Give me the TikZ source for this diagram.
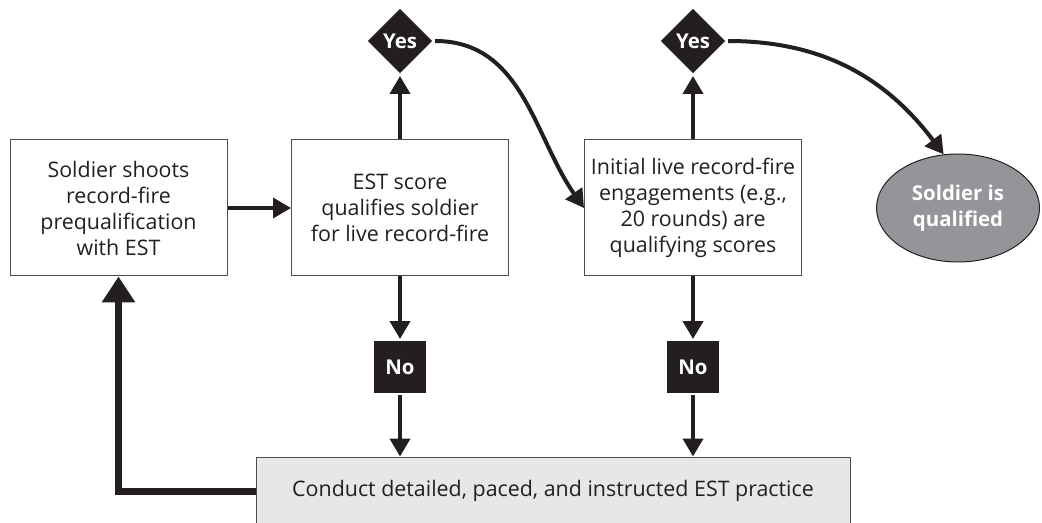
\documentclass[tikz,border=0pt]{standalone}
\usepackage{fontspec}
\setmainfont{Open Sans}
\usetikzlibrary{arrows.meta,shapes.geometric}
\definecolor{inkdark}{HTML}{231F20}
\definecolor{rimgray}{HTML}{4D4D4F}
\definecolor{panelgray}{HTML}{E6E7E8}
\definecolor{ovalgray}{HTML}{939598}

\begin{document}
\begin{tikzpicture}[x=0.5pt, y=-0.5pt, line width=2pt, draw=inkdark, text=inkdark,
    font=\fontsize{10.7}{13}\selectfont,
    -{Triangle[width=10pt, length=9pt]}]
    \tikzstyle{stepbox}=[draw=rimgray, line width=0.5pt, -, align=center, minimum width=108.5pt, minimum height=68pt, inner sep=0pt]
    \tikzstyle{yesmark}=[diamond, fill=inkdark, text=white, font=\fontsize{10.2}{11}\selectfont\bfseries, minimum size=33pt, inner sep=0pt]
    \tikzstyle{nomark}=[rectangle, fill=inkdark, text=white, font=\fontsize{10.2}{11}\selectfont\bfseries, minimum size=26pt, inner sep=0pt]
    \tikzstyle{loopback}=[line width=3.5pt, -{Triangle[width=16pt, length=13pt]}]

    \path[use as bounding box, clip] (0, 0) rectangle (1042, 523);

    \node[stepbox] (shoot) at (118.5, 208) {Soldier shoots\\record-fire\\prequalification\\with EST};
    \node[stepbox] (est) at (400, 208) {EST score\\qualifies soldier\\for live record-fire};
    \node[stepbox] (live) at (693, 208) {Initial live record-fire\\engagements (e.g.,\\20 rounds) are\\qualifying scores};
    \node[yesmark] (yes1) at (400, 41) {Yes};
    \node[yesmark] (yes2) at (693, 41) {Yes};
    \node[nomark] (no1) at (400, 367) {No};
    \node[nomark] (no2) at (693, 367) {No};
    \node[stepbox, fill=panelgray, minimum width=297pt, minimum height=34pt] (practice) at (553, 491) {Conduct detailed, paced, and instructed EST practice};
    \node[ellipse, draw=inkdark, line width=0.5pt, fill=ovalgray, text=white, font=\fontsize{10.2}{13}\selectfont\bfseries, align=center, minimum width=81.5pt, minimum height=54pt, inner sep=0pt] (qual) at (958, 208) {Soldier is\\qualified};

    \path (shoot) edge (est);
    \path (est) edge (yes1);
    \path (live) edge (yes2);
    \path (est) edge (no1);
    \path (live) edge (no2);
    \path (no1) edge (practice.north -| no1);
    \path (no2) edge (practice.north -| no2);
    \path (yes1) edge[out=0, in=125] (live.west);
    \path (yes2) edge[out=0, in=127] (qual.105);
    \draw[loopback] (practice.west) -| (shoot.south);
\end{tikzpicture}
\end{document}
